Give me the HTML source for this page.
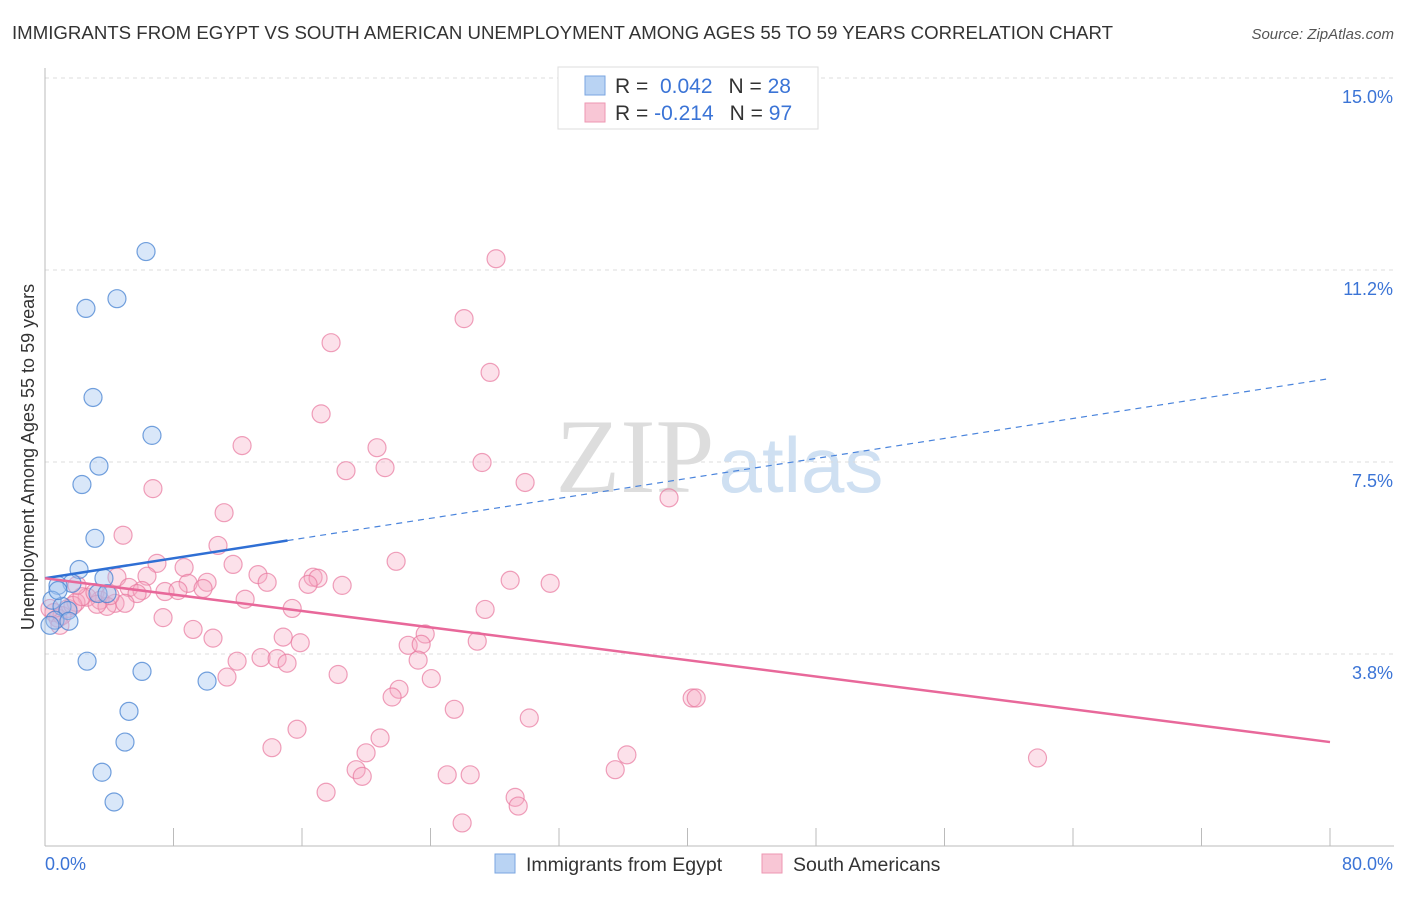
<!DOCTYPE html>
<html><head><meta charset="utf-8"><style>
body{margin:0;background:#fff;font-family:"Liberation Sans",sans-serif;}
</style></head><body>
<svg id="chart" width="1406" height="892" xmlns="http://www.w3.org/2000/svg">
<text x="12" y="39" font-size="18" fill="#333" textLength="1101" lengthAdjust="spacingAndGlyphs">IMMIGRANTS FROM EGYPT VS SOUTH AMERICAN UNEMPLOYMENT AMONG AGES 55 TO 59 YEARS CORRELATION CHART</text>
<text x="1394" y="39" font-size="15" fill="#555" font-style="italic" text-anchor="end">Source: ZipAtlas.com</text>
<text x="635" y="492" font-size="106" fill="#ddd" font-family="Liberation Serif,serif" text-anchor="middle">ZIP</text>
<text x="801" y="492" font-size="78" fill="#cfe0f2" text-anchor="middle">atlas</text>
<g id="grid"></g>
<g id="axes"></g>
<g id="pts"></g>
<g id="trends"></g>
<text transform="translate(34,457) rotate(-90)" font-size="18" fill="#333" text-anchor="middle">Unemployment Among Ages 55 to 59 years</text>
<g>
<rect x="558" y="67" width="260" height="62" fill="#fff" stroke="#ddd"/>
<rect x="585" y="76" width="20" height="19" fill="#b9d3f3" stroke="#7aa6e0"/>
<rect x="585" y="103" width="20" height="19" fill="#f8c6d5" stroke="#ee97b2"/>
<text x="615" y="93" font-size="21" fill="#333">R = <tspan fill="#3b74d6">&#160;0.042</tspan><tspan dx="16">N = </tspan><tspan fill="#3b74d6">28</tspan></text>
<text x="615" y="120" font-size="21" fill="#333">R = <tspan fill="#3b74d6">-0.214</tspan><tspan dx="16">N = </tspan><tspan fill="#3b74d6">97</tspan></text>
</g>
<g>
<rect x="495" y="854" width="20" height="19" fill="#b9d3f3" stroke="#7aa6e0"/>
<text x="526" y="871" font-size="19.5" fill="#333">Immigrants from Egypt</text>
<rect x="762" y="854" width="20" height="19" fill="#f8c6d5" stroke="#ee97b2"/>
<text x="793" y="871" font-size="19.5" fill="#333">South Americans</text>
</g>
</svg>
<script>
const yTicks=[3.75,7.5,11.25,15];
const yTickLabels=['3.8%','7.5%','11.2%','15.0%'];
const xTicks=[0,8,16,24,32,40,48,56,64,72,80];
const xTickLabels=['0.0%','80.0%'];
const egyptX=[6.29,2.55,4.48,2.99,6.66,3.36,2.30,3.11,2.12,1.68,3.67,0.81,0.44,1.06,1.43,0.62,0.31,1.49,3.30,3.86,2.62,6.04,10.09,5.23,4.98,3.55,4.30,0.81];
const egyptY=[11.61,10.50,10.69,8.76,8.02,7.42,7.06,6.01,5.40,5.13,5.23,5.09,4.80,4.68,4.60,4.41,4.31,4.39,4.93,4.93,3.61,3.41,3.22,2.63,2.03,1.44,0.86,4.99];
const saX=[28.08,26.09,17.81,27.71,17.19,12.27,20.67,21.17,27.21,18.74,29.89,6.72,38.85,11.15,4.86,10.77,6.97,21.86,11.71,8.66,6.35,4.48,13.26,16.69,17.00,28.96,31.45,18.50,10.09,13.83,8.91,5.23,16.38,12.46,9.84,7.47,8.28,6.04,5.73,3.43,2.62,1.43,1.93,4.36,3.86,4.98,3.24,15.39,27.40,7.35,0.56,0.81,1.06,9.22,10.46,14.83,15.89,23.67,22.61,23.42,26.91,23.23,11.96,13.45,14.45,15.07,18.25,24.05,11.33,22.04,21.61,40.29,40.54,25.48,30.15,15.69,14.13,20.86,19.99,19.37,19.75,36.23,35.50,25.04,26.47,61.79,17.50,29.27,29.46,25.97,1.74,0.31,2.30,3.11,4.05,0.93,1.99];
const saY=[11.47,10.30,9.83,9.25,8.44,7.82,7.78,7.39,7.49,7.33,7.10,6.98,6.80,6.51,6.07,5.87,5.52,5.56,5.50,5.44,5.27,5.25,5.30,5.25,5.23,5.19,5.13,5.09,5.15,5.15,5.13,5.05,5.11,4.82,5.03,4.97,4.99,4.99,4.93,4.80,4.86,4.64,4.76,4.74,4.68,4.74,4.72,4.64,4.62,4.46,4.56,4.45,4.50,4.23,4.06,4.08,3.97,4.14,3.92,3.94,4.00,3.63,3.61,3.68,3.66,3.57,3.35,3.27,3.30,3.06,2.91,2.89,2.89,2.67,2.50,2.28,1.92,2.11,1.82,1.49,1.36,1.78,1.49,1.39,1.39,1.72,1.05,0.95,0.78,0.45,4.70,4.64,4.87,4.95,4.89,4.31,5.09];
const egyptTrend=[5.23,9.13];
const egyptSolidEnd=15.1;
const saTrend=[5.23,2.03];
const NS='http://www.w3.org/2000/svg';
const X0=45,X1=1330,Y0=846,YS=51.2;
function sx(v){return X0+v*(X1-X0)/80;}
function sy(v){return Y0-v*YS;}
function mk(tag,attrs,parent){const e=document.createElementNS(NS,tag);for(const k in attrs)e.setAttribute(k,attrs[k]);parent.appendChild(e);return e;}
const grid=document.getElementById('grid'),axes=document.getElementById('axes'),pts=document.getElementById('pts'),tr=document.getElementById('trends');
yTicks.forEach((t,i)=>{
 const l=mk('line',{x1:45,x2:1394,y1:sy(t),y2:sy(t),stroke:'#ddd','stroke-dasharray':'4,4'},grid);
 
 
 const tx=mk('text',{x:1393,y:sy(t)+25,'font-size':18,fill:'#3b74d6','text-anchor':'end'},axes);
 tx.textContent=yTickLabels[i];
 
 
});
const ax=mk('line',{x1:45,x2:1394,y1:Y0,y2:Y0,stroke:'#bbb'},axes);


const ayl=mk('line',{x1:45,x2:45,y1:68,y2:Y0,stroke:'#bbb'},axes);


xTicks.forEach(t=>{
 const l=mk('line',{x1:sx(t),x2:sx(t),y1:Y0,y2:Y0-18,stroke:'#bbb'},axes);
 
 
});
const xl0=mk('text',{x:45,y:870,'font-size':18,fill:'#3b74d6'},axes);xl0.textContent=xTickLabels[0];


const xl1=mk('text',{x:1393,y:870,'font-size':18,fill:'#3b74d6','text-anchor':'end'},axes);xl1.textContent=xTickLabels[1];


saX.forEach((v,i)=>{
 const c=mk('circle',{cx:sx(v),cy:sy(saY[i]),r:9,fill:'rgba(246,170,195,0.35)',stroke:'rgba(232,120,158,0.7)','stroke-width':1.2},pts);
 
 
});
egyptX.forEach((v,i)=>{
 const c=mk('circle',{cx:sx(v),cy:sy(egyptY[i]),r:9,fill:'rgba(160,196,240,0.4)',stroke:'rgba(70,130,210,0.75)','stroke-width':1.2},pts);
 
 
});
function lerp(a,b,t){return a+(b-a)*t/80;}
const bs=mk('line',{x1:sx(0),y1:sy(egyptTrend[0]),x2:sx(egyptSolidEnd),y2:sy(lerp(egyptTrend[0],egyptTrend[1],egyptSolidEnd)),stroke:'#2f6fd4','stroke-width':2.5},tr);


const bd=mk('line',{x1:sx(egyptSolidEnd),y1:sy(lerp(egyptTrend[0],egyptTrend[1],egyptSolidEnd)),x2:sx(80),y2:sy(egyptTrend[1]),stroke:'#4a84dc','stroke-width':1.2,'stroke-dasharray':'6,5'},tr);


const pl=mk('line',{x1:sx(0),y1:sy(saTrend[0]),x2:sx(80),y2:sy(saTrend[1]),stroke:'#e8689a','stroke-width':2.5},tr);


</script>
</body></html>
